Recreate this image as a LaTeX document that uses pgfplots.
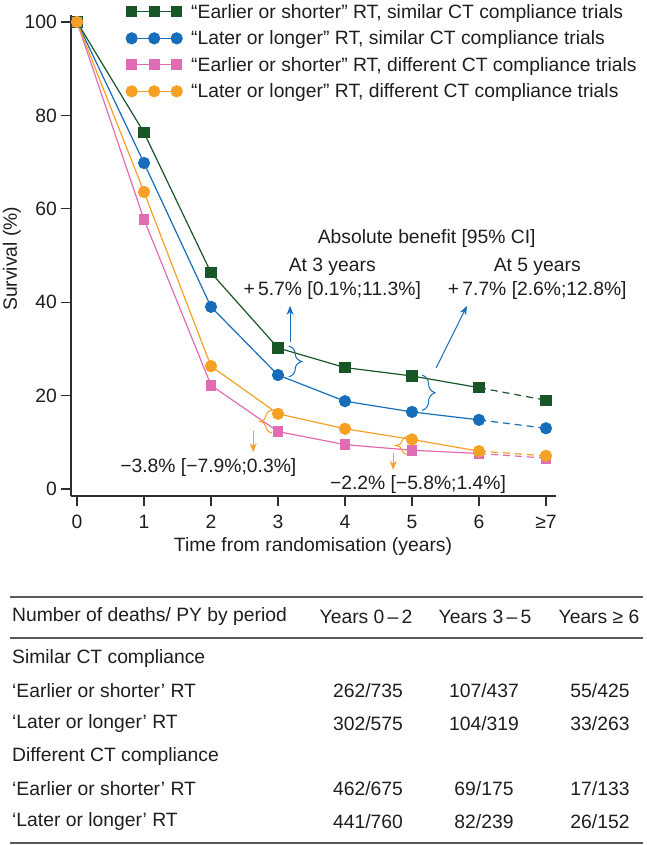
\documentclass[border=0pt]{standalone}
\usepackage{fontspec}
\setmainfont{Liberation Sans}
\usepackage{pgfplots}
\pgfplotsset{compat=1.18}
\usetikzlibrary{decorations.pathreplacing,arrows.meta}
\definecolor{cgreen}{RGB}{24,86,40}
\definecolor{cblue}{RGB}{22,110,186}
\definecolor{cpink}{RGB}{226,108,180}
\definecolor{corange}{RGB}{246,160,36}
\definecolor{caxis}{RGB}{45,45,45}
\definecolor{ctext}{RGB}{30,30,30}
\definecolor{crule}{RGB}{90,90,90}
\newcommand{\fs}{\fontsize{19.3}{23}\selectfont}
\begin{document}
\begin{tikzpicture}[x=1pt,y=1pt,font=\fs,text=ctext]
\path[use as bounding box] (0,0) rectangle (647,845);
\begin{axis}[
  at={(71pt,349pt)}, anchor=south west,
  scale only axis, width=485pt, height=481pt,
  xmin=-0.09, xmax=7.15, ymin=-1.5, ymax=101.5,
  axis lines=left,
  axis line style={-, line width=1.3pt, caxis},
  tick style={line width=1.2pt, caxis},
  tick align=outside, major tick length=10pt,
  xtick={0,1,2,3,4,5,6,7},
  xticklabels={0,1,2,3,4,5,6,≥7},
  ytick={0,20,40,60,80,100},
  /pgf/number format/assume math mode=true,
  ticklabel style={font=\fs, text=ctext},
  yticklabel style={inner xsep=4pt},
  xticklabel style={inner ysep=4pt, yshift=-5pt},
  xlabel={Time from randomisation (years)},
  ylabel={Survival (\%)},
  every axis x label/.style={at={(axis description cs:0.499,-0.104)}, anchor=center, font=\fs},
  every axis y label/.style={at={(axis description cs:-0.122,0.493)}, rotate=90, anchor=center, font=\fs},
  clip=false,
  legend style={at={(axis description cs:0.1134,1.023)}, anchor=north west, draw=none, fill=none,
    inner sep=0pt, row sep=11pt, font=\fs, cells={anchor=west},
    nodes={inner xsep=9pt, inner ysep=0pt}},
  legend image code/.code={\draw[mark repeat=1, mark phase=1, #1] plot coordinates {(0pt,0pt) (22.5pt,0pt) (45pt,0pt)};},
]
% green: earlier/shorter, similar
\addplot[cgreen, line width=1.2pt, mark=square*, mark size=5pt, mark options={solid}]
  coordinates {(0,100) (1,76.3) (2,46.3) (3,30.2) (4,26.0) (5,24.2) (6,21.7)};
\addlegendentry{“Earlier or shorter” RT, similar CT compliance trials}
\addplot[cgreen, line width=1.2pt, dash pattern=on 7pt off 5pt, mark=square*, mark size=5pt, mark options={solid}, mark indices={2}, forget plot]
  coordinates {(6,21.7) (7,19.0)};
% blue: later/longer, similar
\addplot[cblue, line width=1.2pt, mark=*, mark size=5.5pt, mark options={solid}]
  coordinates {(0,100) (1,69.8) (2,39.0) (3,24.4) (4,18.8) (5,16.5) (6,14.8)};
\addlegendentry{“Later or longer” RT, similar CT compliance trials}
\addplot[cblue, line width=1.2pt, dash pattern=on 7pt off 5pt, mark=*, mark size=5.5pt, mark options={solid}, mark indices={2}, forget plot]
  coordinates {(6,14.8) (7,13.0)};
% pink: earlier/shorter, different
\addplot[cpink, line width=1.2pt, mark=square*, mark size=4.8pt, mark options={solid}]
  coordinates {(0,100) (1,57.7) (2,22.2) (3,12.3) (4,9.5) (5,8.3) (6,7.6)};
\addlegendentry{“Earlier or shorter” RT, different CT compliance trials}
\addplot[cpink, line width=1.2pt, dash pattern=on 7pt off 5pt, mark=square*, mark size=4.8pt, mark options={solid}, mark indices={2}, forget plot]
  coordinates {(6,7.6) (7,6.6)};
% orange: later/longer, different
\addplot[corange, line width=1.2pt, mark=*, mark size=5.5pt, mark options={solid}]
  coordinates {(0,100) (1,63.6) (2,26.3) (3,16.1) (4,12.9) (5,10.6) (6,8.1)};
\addlegendentry{“Later or longer” RT, different CT compliance trials}
\addplot[corange, line width=1.2pt, dash pattern=on 7pt off 5pt, mark=*, mark size=5.5pt, mark options={solid}, mark indices={2}, forget plot]
  coordinates {(6,8.1) (7,7.1)};

% annotations
\node at (axis cs:5.22,53.7) {Absolute benefit [95\% CI]};
\node at (axis cs:3.81,47.5) {At 3 years};
\node at (axis cs:3.81,42.6) {+\,5.7\% [0.1\%;11.3\%]};
\node at (axis cs:6.87,47.5) {At 5 years};
\node at (axis cs:6.87,42.6) {+\,7.7\% [2.6\%;12.8\%]};
\draw[cblue, line width=1pt, -{Stealth[length=9pt,width=7pt]}] (axis cs:3.18,31.5) -- (axis cs:3.18,39.2);
\draw[cblue, line width=1pt, -{Stealth[length=9pt,width=7pt]}] (axis cs:5.36,25.9) -- (axis cs:5.82,39.2);
\draw[cblue, line width=1pt, decorate, decoration={brace, amplitude=13pt}] (axis cs:3.16,30.6) -- (axis cs:3.16,24.0);
\draw[cblue, line width=1pt, decorate, decoration={brace, amplitude=13pt}] (axis cs:5.15,24.4) -- (axis cs:5.15,16.8);
\draw[corange, line width=1pt, decorate, decoration={brace, amplitude=12pt}] (axis cs:2.91,12.0) -- (axis cs:2.91,16.9);
\draw[corange, line width=1pt, decorate, decoration={brace, amplitude=13pt}] (axis cs:4.95,7.3) -- (axis cs:4.95,11.3);
\draw[corange, line width=1pt, -{Stealth[length=9pt,width=7pt]}] (axis cs:2.63,12.4) -- (axis cs:2.63,7.9);
\draw[corange, line width=1pt, -{Stealth[length=9pt,width=7pt]}] (axis cs:4.72,7.7) -- (axis cs:4.72,4.1);
\node at (axis cs:1.96,4.5) {−3.8\% [−7.9\%;0.3\%]};
\node at (axis cs:5.09,0.86) {−2.2\% [−5.8\%;1.4\%]};
\end{axis}

% table
\draw[crule, line width=1.2pt] (10,248) -- (643,248);
\draw[crule, line width=1.2pt] (10,207) -- (643,207);
\draw[crule, line width=1.2pt] (10,2) -- (643,2);
\node[anchor=west, inner xsep=0pt] at (12,228) {Number of deaths/ PY by period};
\node at (366,228) {Years 0\,–\,2};
\node at (485,228) {Years 3\,–\,5};
\node at (599,228) {Years ≥ 6};
\node[anchor=west, inner xsep=0pt] at (12,186) {Similar CT compliance};
\node[anchor=west, inner xsep=0pt] at (12,154) {‘Earlier or shorter’ RT};
\node at (368,154) {262/735};
\node at (484,154) {107/437};
\node at (600,154) {55/425};
\node[anchor=west, inner xsep=0pt] at (12,121) {‘Later or longer’ RT};
\node at (368,121) {302/575};
\node at (484,121) {104/319};
\node at (600,121) {33/263};
\node[anchor=west, inner xsep=0pt] at (12,88) {Different CT compliance};
\node[anchor=west, inner xsep=0pt] at (12,56) {‘Earlier or shorter’ RT};
\node at (368,56) {462/675};
\node at (484,56) {69/175};
\node at (600,56) {17/133};
\node[anchor=west, inner xsep=0pt] at (12,23) {‘Later or longer’ RT};
\node at (368,23) {441/760};
\node at (484,23) {82/239};
\node at (600,23) {26/152};
\end{tikzpicture}
\end{document}
